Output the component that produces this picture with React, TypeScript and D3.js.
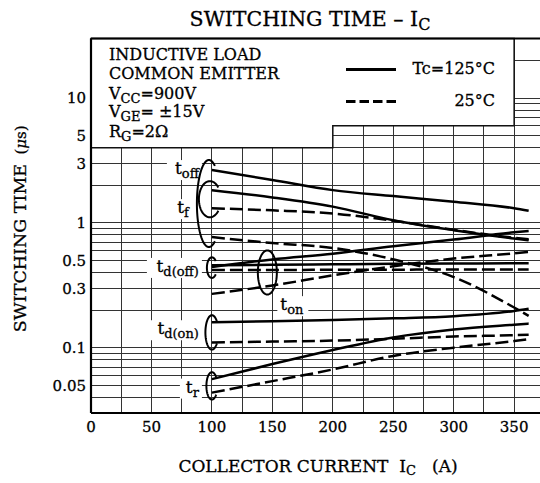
import React from "react";
import * as d3 from "d3";

// ---- data ----
const IC = [100, 150, 200, 250, 300, 350, 362];
const TOFF_125 = [2.65, 2.21, 1.83, 1.64, 1.48, 1.31, 1.25];
const TOFF_25 = [0.77, 0.69, 0.63, 0.51, 0.368, 0.21, 0.18];
const TF_125 = [1.83, 1.6, 1.35, 1.05, 0.874, 0.75, 0.726];
const TF_25 = [1.31, 1.26, 1.19, 1.04, 0.88, 0.76, 0.74];
const TDOFF_125 = [0.457, 0.462, 0.466, 0.47, 0.473, 0.475, 0.476];
const TDOFF_25 = [0.42, 0.42, 0.421, 0.422, 0.423, 0.424, 0.424];
const TON_125 = [0.443, 0.51, 0.567, 0.65, 0.735, 0.84, 0.86];
const TON_25 = [0.27, 0.315, 0.38, 0.449, 0.518, 0.57, 0.585];
const TDON_125 = [0.16, 0.163, 0.167, 0.172, 0.179, 0.197, 0.205];
const TDON_25 = [0.11, 0.112, 0.114, 0.118, 0.123, 0.126, 0.127];
const TR_125 = [0.056, 0.074, 0.096, 0.121, 0.14, 0.153, 0.156];
const TR_25 = [0.0437, 0.054, 0.067, 0.086, 0.1, 0.113, 0.117];

const X_TICKS = [0, 50, 100, 150, 200, 250, 300, 350];
const Y_TICKS = [0.05, 0.1, 0.3, 0.5, 1, 3, 5, 10];

const W = 540;
const H = 483;
const FONT = "DejaVu Serif";
const TXT = { fill: "#000", stroke: "#000", strokeWidth: 0.3 };

const x = d3.scaleLinear().domain([0, 400]).range([91, 574.6]);
const y = d3.scaleLog().domain([0.03, 30]).range([413, 38.5]);

const line = d3
  .line<number>()
  .x((_, i) => x(IC[i]))
  .y((d) => y(d))
  .curve(d3.curveMonotoneX);

const SERIES = [
  { v: TOFF_125, dash: false },
  { v: TOFF_25, dash: true },
  { v: TF_125, dash: false },
  { v: TF_25, dash: true },
  { v: TDOFF_125, dash: false },
  { v: TDOFF_25, dash: true },
  { v: TON_125, dash: false },
  { v: TON_25, dash: true },
  { v: TDON_125, dash: false },
  { v: TDON_25, dash: true },
  { v: TR_125, dash: false },
  { v: TR_25, dash: true },
];

function arc(cx: number, cy: number, rx: number, ry: number, a0: number, a1: number) {
  const pts = d3.range(a0, a1 + 0.1, 4).map((a) => {
    const t = (a * Math.PI) / 180;
    return [cx + rx * Math.cos(t), cy + ry * Math.sin(t)] as [number, number];
  });
  return d3.line()(pts) as string;
}

function bracket(xc: number, a: number, b: number, pad: number, rx: number, a0 = 40, a1 = 320) {
  const ya = y(a), yb = y(b);
  const cy = (ya + yb) / 2;
  const ry = Math.abs(ya - yb) / 2 + pad;
  return arc(xc, cy, rx, ry, a0, a1);
}

// horizontal grid values
const hGrid: number[] = [];
[0.01, 0.1, 1, 10].forEach((d) => {
  for (let m = 1; m <= 9; m++) {
    const v = +(m * d).toPrecision(3);
    if (v > 0.03 && v < 30) hGrid.push(v);
  }
});
const vGrid = d3.range(25, 401, 25);

type Lbl = { sub: string; x: number; y: number; anchor: "start" | "end"; w: number };
const LABELS: Lbl[] = [
  { sub: "off", x: x(100) - 13, y: y(TOFF_125[0]) + 4, anchor: "end", w: 30 },
  { sub: "f", x: x(100) - 23, y: y(TF_125[0]) + 23, anchor: "end", w: 16 },
  { sub: "d(off)", x: x(100) - 13, y: y(TDOFF_25[0]) + 2, anchor: "end", w: 50 },
  { sub: "on", x: x(150) + 8, y: y(0.2) + 0, anchor: "start", w: 26 },
  { sub: "d(on)", x: x(100) - 13, y: y(TDON_125[0]) + 12, anchor: "end", w: 49 },
  { sub: "r", x: x(100) - 13, y: y(TR_25[0]) + 0, anchor: "end", w: 17 },
];

export default function App() {
  const boxPath = `M${x(0)},${y(30)}H${x(350)}V${y(6)}H${x(200)}V${y(4)}H${x(0)}Z`;
  return (
    <svg
      width={W}
      height={H}
      style={{ position: "absolute", left: 0, top: 0, background: "#fff" }}
      fontFamily={FONT}
    >
      <rect x={0} y={0} width={W} height={H} fill="#fff" />
      {/* grid */}
      <g stroke="#333" strokeWidth={1} shapeRendering="crispEdges">
        {hGrid.map((v) => (
          <line key={"h" + v} x1={x(0)} x2={x(400)} y1={y(v)} y2={y(v)} />
        ))}
        {vGrid.map((v) => (
          <line key={"v" + v} x1={x(v)} x2={x(v)} y1={y(30)} y2={y(0.03)} />
        ))}
      </g>
      {/* conditions box */}
      <path d={boxPath} fill="#fff" stroke="#111" strokeWidth={1.5} />
      {/* frame */}
      <g stroke="#000" strokeWidth={2.2} fill="none">
        <line x1={x(0)} x2={x(400)} y1={y(30)} y2={y(30)} />
        <line x1={x(0)} x2={x(400)} y1={y(0.03)} y2={y(0.03)} />
        <line x1={x(0)} x2={x(0)} y1={y(30)} y2={y(0.03)} />
      </g>
      {/* label backgrounds */}
      {LABELS.map((l, i) => (
        <rect
          key={"bg" + i}
          x={l.anchor === "end" ? l.x - l.w - 2 : l.x - 3}
          y={l.y - 14}
          width={l.w + 5}
          height={20}
          fill="#fff"
        />
      ))}
      {/* curves */}
      <g fill="none" stroke="#000" strokeWidth={2.5}>
        {SERIES.map((s, i) => (
          <path key={i} d={line(s.v) as string} strokeDasharray={s.dash ? "13,5" : undefined} />
        ))}
      </g>
      {/* brackets */}
      <g fill="none" stroke="#000" strokeWidth={2}>
        <path d={bracket(x(100) - 3, TOFF_125[0], TOFF_25[0], 10, 12, 60, 300)} />
        <path d={bracket(x(100) - 2, TF_125[0], TF_25[0], 9, 11, 40, 320)} />
        <path d={bracket(x(100), TDOFF_125[0], TDOFF_25[0], 8, 5, 40, 320)} />
        <path d={bracket(x(150) - 5, TON_125[1], TON_25[1], 9, 9.5, 0, 360)} />
        <path d={bracket(x(100), TDON_125[0], TDON_25[0], 7, 6.5, 40, 320)} />
        <path d={bracket(x(100), TR_125[0], TR_25[0], 7, 5.5, 40, 320)} />
      </g>
      {/* curve labels */}
      {LABELS.map((l, i) => (
        <text key={"l" + i} x={l.x} y={l.y} fontSize={17} textAnchor={l.anchor} {...TXT}>
          t<tspan fontSize={13} dy={4}>{l.sub}</tspan>
        </text>
      ))}
      {/* axis tick labels */}
      {X_TICKS.map((v) => (
        <text key={"xt" + v} x={x(v)} y={432} fontSize={15} textAnchor="middle" {...TXT}>
          {v}
        </text>
      ))}
      {Y_TICKS.map((v) => (
        <text key={"yt" + v} x={86} y={y(v)} dy="0.36em" fontSize={15} textAnchor="end" {...TXT}>
          {String(v)}
        </text>
      ))}
      {/* title */}
      <text x={310} y={26} fontSize={20.5} textAnchor="middle" {...TXT}>
        SWITCHING TIME{"\u00a0"}–{"\u00a0"}I<tspan fontSize={16} dy={4}>C</tspan>
      </text>
      {/* axis titles */}
      <text x={318} y={472} fontSize={17} textAnchor="middle" {...TXT}>
        COLLECTOR CURRENT{"\u00a0\u00a0"}I<tspan fontSize={13} dy={3}>C</tspan>
        <tspan dy={-3}>{"\u00a0\u00a0\u00a0"}(A)</tspan>
      </text>
      <text transform="translate(26,248) rotate(-90)" fontSize={17.5} textAnchor="middle" {...TXT}>
        SWITCHING TIME
      </text>
      <text transform="translate(26,140) rotate(-90)" fontSize={15} textAnchor="middle" {...TXT}>
        (<tspan fontStyle="italic">μ</tspan>s)
      </text>
      {/* conditions */}
      <g fontSize={16} {...TXT}>
        <text x={109} y={60}>INDUCTIVE LOAD</text>
        <text x={109} y={79}>COMMON EMITTER</text>
        <text x={109} y={99}>
          V<tspan fontSize={13} dy={4}>CC</tspan>
          <tspan dy={-4}>=900V</tspan>
        </text>
        <text x={109} y={117}>
          V<tspan fontSize={13} dy={4}>GE</tspan>
          <tspan dy={-4}>= ±15V</tspan>
        </text>
        <text x={109} y={137}>
          R<tspan fontSize={13} dy={4}>G</tspan>
          <tspan dy={-4}>=2Ω</tspan>
        </text>
      </g>
      {/* legend */}
      <line x1={346} x2={396} y1={69.5} y2={69.5} stroke="#000" strokeWidth={3} />
      <line x1={346} x2={396} y1={101.5} y2={101.5} stroke="#000" strokeWidth={3} strokeDasharray="9.5,4" />
      <text x={495} y={74} fontSize={16} textAnchor="end" {...TXT}>
        Tc=125°C
      </text>
      <text x={495} y={106} fontSize={16} textAnchor="end" {...TXT}>
        25°C
      </text>
    </svg>
  );
}
